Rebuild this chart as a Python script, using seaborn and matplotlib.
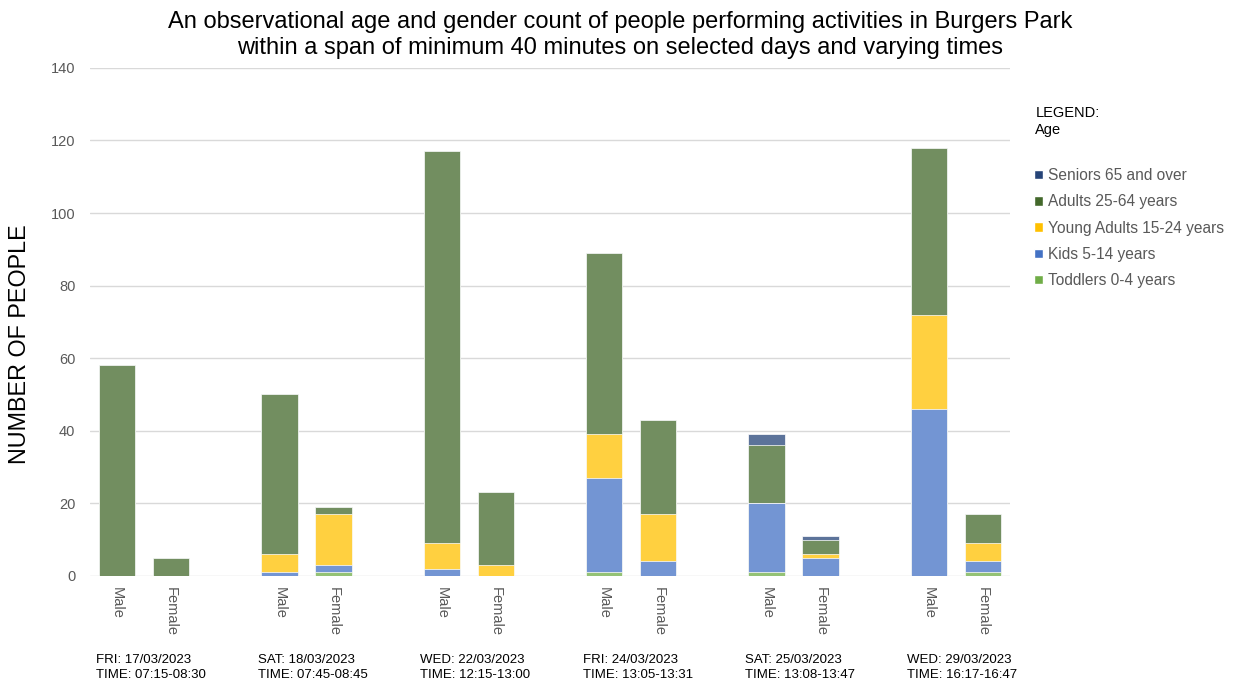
import numpy as np
import pandas as pd
import seaborn as sns
import matplotlib
import matplotlib.pyplot as plt
from matplotlib.colors import to_rgb
from matplotlib.patches import Patch
from matplotlib.transforms import blended_transform_factory

matplotlib.use('Agg')

# data
days = ['FRI: 17/03/2023\nTIME: 07:15-08:30',
        'SAT: 18/03/2023\nTIME: 07:45-08:45',
        'WED: 22/03/2023\nTIME: 12:15-13:00',
        'FRI: 24/03/2023\nTIME: 13:05-13:31',
        'SAT: 25/03/2023\nTIME: 13:08-13:47',
        'WED: 29/03/2023\nTIME: 16:17-16:47']
genders = ['Male', 'Female']
age_groups = ['Toddlers 0-4 years', 'Kids 5-14 years', 'Young Adults 15-24 years',
              'Adults 25-64 years', 'Seniors 65 and over']

# one value per bar, in order day1 Male, day1 Female, day2 Male, ...
toddlers = [0, 0, 0, 1, 0, 0, 1, 0, 1, 0, 0, 1]
kids = [0, 0, 1, 2, 2, 0, 26, 4, 19, 5, 46, 3]
young_adults = [0, 0, 5, 14, 7, 3, 12, 13, 0, 1, 26, 5]
adults = [58, 5, 44, 2, 108, 20, 50, 26, 16, 4, 46, 8]
seniors = [0, 0, 0, 0, 0, 0, 0, 0, 3, 1, 0, 0]

yticks = [0, 20, 40, 60, 80, 100, 120, 140]

legend_colors = {'Seniors 65 and over': '#264478', 'Adults 25-64 years': '#43682B',
                 'Young Adults 15-24 years': '#FFC000', 'Kids 5-14 years': '#4472C4',
                 'Toddlers 0-4 years': '#70AD47'}


def faded(c, a=0.75):
    """颜色和白色混合, 模拟透明度"""
    r = np.array(to_rgb(c))
    return tuple(r * a + (1 - a))


# 每组三个位置: Male, Female, 空
slots = []
for d in range(len(days)):
    slots += [d * 3, d * 3 + 1]

rows = []
series = [toddlers, kids, young_adults, adults, seniors]
for i, pos in enumerate(slots):
    for age, vals in zip(age_groups, series):
        rows.append({'slot': pos, 'age': age, 'value': vals[i]})
df = pd.DataFrame(rows)
df['cum'] = df.groupby('slot')['value'].cumsum()

sns.set_style('white')
plt.rcParams['font.family'] = ['Liberation Sans', 'DejaVu Sans']

fig = plt.figure(figsize=(12.37, 6.84), dpi=100)
ax = fig.add_axes([0.0728, 0.158, 0.7437, 0.7427])

# 从上往下画累积柱, 下层覆盖上层
for age in reversed(age_groups):
    sub = df[df['age'] == age]
    sns.barplot(data=sub, x='slot', y='cum', native_scale=True, width=0.67,
                color=faded(legend_colors[age]), saturation=1,
                edgecolor='white', linewidth=0.5, ax=ax, zorder=3)

ax.set_xlim(-0.5, 16.5)
ax.set_ylim(0, 140)
ax.set_yticks(yticks)
ax.yaxis.grid(True, color='#D9D9D9', linewidth=1, zorder=0)
ax.set_axisbelow(True)
sns.despine(ax=ax, left=True, bottom=True)
ax.tick_params(axis='y', length=0, pad=10.5, labelsize=10.5, labelcolor='#595959')
ax.set_xticks(slots)
ax.set_xticklabels(genders * len(days), rotation=-90, fontsize=10.5, color='#595959')
ax.tick_params(axis='x', length=0, pad=8)
ax.set_xlabel('')
ax.set_ylabel('')

# 日期/时间标签
trans = blended_transform_factory(ax.transData, fig.transFigure)
for d, lab in enumerate(days):
    ax.text(d * 3 + 0.62, 0.0245, lab, transform=trans, ha='center', va='center',
            multialignment='left', fontsize=9.5, color='black', linespacing=1.35)

fig.text(0.501, 0.984,
         'An observational age and gender count of people performing activities in Burgers Park\n'
         'within a span of minimum 40 minutes on selected days and varying times',
         ha='center', va='top', fontsize=17, linespacing=1.22, color='black')
fig.text(0.016, 0.497, 'NUMBER OF PEOPLE', rotation=90, ha='center', va='center',
         fontsize=16.8, color='black')

fig.text(0.837, 0.845, 'LEGEND:\nAge', ha='left', va='top', fontsize=10.5, linespacing=1.3,
         color='black')
handles = [Patch(facecolor=legend_colors[a], label=a) for a in reversed(age_groups)]
fig.legend(handles=handles, loc='upper left', bbox_to_anchor=(0.836, 0.754), frameon=False,
           borderpad=0, borderaxespad=0, fontsize=11.2, labelcolor='#595959',
           handlelength=0.55, handleheight=0.55, handletextpad=0.35, labelspacing=0.72)

fig.savefig('out.png', dpi=100)
